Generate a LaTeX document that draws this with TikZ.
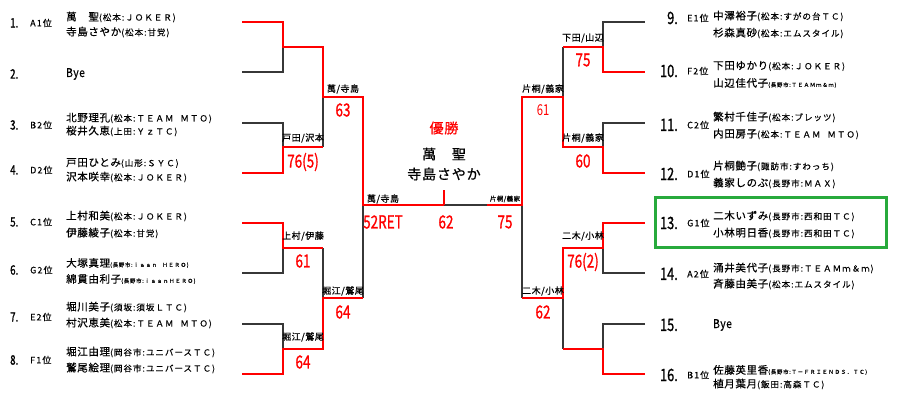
\documentclass[tikz,border=0pt]{standalone}
\usepackage{fontspec}
\setmainfont{Noto Sans CJK JP}
\newfontfamily\namefont[LetterSpace=6,FakeBold=0.6]{Noto Sans CJK JP}
\newfontfamily\clubfont[LetterSpace=12,FakeBold=0.3]{Noto Sans CJK JP}
\newfontfamily\scorefont[FakeBold=1.2]{Noto Sans CJK JP}
\definecolor{winred}{RGB}{255,0,0}
\definecolor{losegray}{RGB}{55,55,55}
\definecolor{boxgreen}{RGB}{40,170,60}
\newcommand\slim[2][0.75]{\scalebox{#1}[1]{#2}}
\newcommand\nm[3][8.5]{{\namefont\fontsize{10.5}{12}\selectfont #2}{\clubfont\fontsize{#1}{#1}\selectfont(#3)}}

\begin{document}
\begin{tikzpicture}[x=1pt,y=-1pt,
		win/.style={line width=2pt, color=winred},
		lose/.style={line width=2pt, color=losegray},
		seedL/.style={anchor=west, inner sep=0pt, font=\scorefont\fontsize{13}{13}\selectfont},
		seedR/.style={anchor=east, inner sep=0pt, font=\scorefont\fontsize{17}{17}\selectfont},
		rank/.style={anchor=west, inner sep=0pt, font=\clubfont\fontsize{9}{9}\selectfont},
		plr/.style={anchor=west, inner sep=0pt},
		bye/.style={anchor=west, inner sep=0pt, font=\namefont\fontsize{12}{12}\selectfont},
		pair/.style={inner sep=0pt, font=\namefont\fontsize{9}{9}\selectfont},
		score/.style={inner sep=0pt, color=winred, font=\scorefont\fontsize{18}{18}\selectfont},
		champ/.style={inner sep=0pt, font=\namefont\fontsize{14}{14}\selectfont}]
			%%%%% START %%%%%
			\useasboundingbox (0,0) rectangle (906,400);
			
			% left half
			\draw[lose] (283,47) -- (283,72) -- (242,72);
			\draw[lose] (242,123) -- (283,123) -- (283,147);
			\draw[lose] (323,97) -- (323,147);
			\draw[lose] (283,248) -- (283,273) -- (242,273);
			\draw[lose] (242,324) -- (283,324) -- (283,349);
			\draw[lose] (323,248) -- (323,298);
			\draw[lose] (363,205) -- (363,298);
			\draw[win] (242,22) -- (283,22) -- (283,47) -- (323,47) -- (323,97) -- (363,97) -- (363,205) -- (444,205);
			\draw[win] (242,173) -- (283,173) -- (283,147) -- (323,147);
			\draw[win] (242,223) -- (283,223) -- (283,248) -- (323,248);
			\draw[win] (242,374) -- (283,374) -- (283,349) -- (323,349) -- (323,298) -- (363,298);
			
			% final
			\draw[lose] (444,205) -- (487,205);
			\draw[win] (444,190) -- (444,205);
			
			% right half
			\draw[lose] (522,205) -- (522,298);
			\draw[lose] (563,97) -- (563,47);
			\draw[lose] (603,47) -- (603,22) -- (645,22);
			\draw[lose] (603,147) -- (603,123) -- (645,123);
			\draw[lose] (563,298) -- (563,349);
			\draw[lose] (603,248) -- (603,273) -- (645,273);
			\draw[lose] (645,324) -- (603,324) -- (603,349);
			\draw[win] (487,205) -- (522,205) -- (522,97) -- (563,97) -- (563,147) -- (603,147) -- (603,173) -- (645,173);
			\draw[win] (563,47) -- (603,47) -- (603,72) -- (645,72);
			\draw[win] (522,298) -- (563,298) -- (563,248) -- (603,248) -- (603,223) -- (645,223);
			\draw[win] (563,349) -- (603,349) -- (603,374) -- (645,374);
			
			\draw[line width=3pt, color=boxgreen] (655,197) rectangle (886,247);
			
			% left players
			\node[seedL] (n1) at (10,23) {\slim{1.}};
			\node[rank] (k1) at (30,23) {A1位};
			\node[plr] (p1a) at (66,17) {\nm{萬　聖}{松本:ＪＯＫＥＲ}};
			\node[plr] (p1b) at (66,32) {\nm{寺島さやか}{松本:甘党}};
			\node[seedL] (n2) at (10,74) {\slim{2.}};
			\node[bye] (p2) at (66,74) {\slim[0.85]{Bye}};
			\node[seedL] (n3) at (10,125) {\slim{3.}};
			\node[rank] (k3) at (30,125) {B2位};
			\node[plr] (p3a) at (66,118) {\nm{北野理孔}{松本:ＴＥＡＭ\hspace{4pt} ＭＴＯ}};
			\node[plr] (p3b) at (66,131) {\nm{桜井久恵}{上田:ＹｚＴＣ}};
			\node[seedL] (n4) at (10,170) {\slim{4.}};
			\node[rank] (k4) at (30,170) {D2位};
			\node[plr] (p4a) at (66,163) {\nm{戸田ひとみ}{山形:ＳＹＣ}};
			\node[plr] (p4b) at (66,177) {\nm{沢本咲幸}{松本:ＪＯＫＥＲ}};
			\node[seedL] (n5) at (10,222) {\slim{5.}};
			\node[rank] (k5) at (30,222) {C1位};
			\node[plr] (p5a) at (66,216) {\nm{上村和美}{松本:ＪＯＫＥＲ}};
			\node[plr] (p5b) at (66,233) {\nm{伊藤綾子}{松本:甘党}};
			\node[seedL] (n6) at (10,270) {\slim{6.}};
			\node[rank] (k6) at (30,270) {G2位};
			\node[plr] (p6a) at (66,263) {\nm[5.5]{大塚真理}{長野市:ｉａａｎ\hspace{3pt} ＨＥＲＯ}};
			\node[plr] (p6b) at (66,279) {\nm[5.5]{綿貫由利子}{長野市:ｉａａｎＨＥＲＯ}};
			\node[seedL] (n7) at (10,317) {\slim{7.}};
			\node[rank] (k7) at (30,317) {E2位};
			\node[plr] (p7a) at (66,307) {\nm{堀川美子}{須坂:須坂ＬＴＣ}};
			\node[plr] (p7b) at (66,323) {\nm{村沢恵美}{松本:ＴＥＡＭ\hspace{4pt} ＭＴＯ}};
			\node[seedL] (n8) at (10,360) {\slim{8.}};
			\node[rank] (k8) at (30,360) {F1位};
			\node[plr] (p8a) at (66,352) {\nm{堀江由理}{岡谷市:ユニバースＴＣ}};
			\node[plr] (p8b) at (66,368) {\nm{鷲尾絵理}{岡谷市:ユニバースＴＣ}};
			
			% right players
			\node[seedR] (n9) at (678,18) {\slim{9.}};
			\node[rank] (k9) at (687,18) {E1位};
			\node[plr] (p9a) at (713,16) {\nm{中澤裕子}{松本:すがの台ＴＣ}};
			\node[plr] (p9b) at (713,33) {\nm{杉森真砂}{松本:エムスタイル}};
			\node[seedR] (n10) at (678,71) {\slim{10.}};
			\node[rank] (k10) at (687,71) {F2位};
			\node[plr] (p10a) at (713,66) {\nm{下田ゆかり}{松本:ＪＯＫＥＲ}};
			\node[plr] (p10b) at (713,83) {\nm[5.5]{山辺佳代子}{長野市:ＴＥＡＭｍ＆ｍ}};
			\node[seedR] (n11) at (678,125) {\slim{11.}};
			\node[rank] (k11) at (687,125) {C2位};
			\node[plr] (p11a) at (713,117) {\nm{繁村千佳子}{松本:ブレッツ}};
			\node[plr] (p11b) at (713,134) {\nm{内田房子}{松本:ＴＥＡＭ\hspace{4pt} ＭＴＯ}};
			\node[seedR] (n12) at (678,174) {\slim{12.}};
			\node[rank] (k12) at (687,174) {D1位};
			\node[plr] (p12a) at (713,166) {\nm{片桐艶子}{諏訪市:すわっち}};
			\node[plr] (p12b) at (713,183) {\nm{義家しのぶ}{長野市:ＭＡＸ}};
			\node[seedR] (n13) at (678,223) {\slim{13.}};
			\node[rank] (k13) at (687,223) {G1位};
			\node[plr] (p13a) at (713,216) {\nm{二木いずみ}{長野市:西和田ＴＣ}};
			\node[plr] (p13b) at (713,233) {\nm{小林明日香}{長野市:西和田ＴＣ}};
			\node[seedR] (n14) at (678,274) {\slim{14.}};
			\node[rank] (k14) at (687,274) {A2位};
			\node[plr] (p14a) at (713,268) {\nm{涌井美代子}{長野市:ＴＥＡＭｍ＆ｍ}};
			\node[plr] (p14b) at (713,284) {\nm{斉藤由美子}{松本:エムスタイル}};
			\node[seedR] (n15) at (678,325) {\slim{15.}};
			\node[bye] (p15) at (713,325) {\slim[0.85]{Bye}};
			\node[seedR] (n16) at (678,375) {\slim{16.}};
			\node[rank] (k16) at (687,375) {B1位};
			\node[plr] (p16a) at (713,370) {\nm[5.5]{佐藤英里香}{長野市:Ｔ－ＦＲＩＥＮＤＳ．ＴＣ}};
			\node[plr] (p16b) at (713,384) {\nm{植月葉月}{飯田:高森ＴＣ}};
			
			% pairs and scores, left
			\node[pair] (w34) at (303,138) {戸田/沢本};
			\node[score] (s34) at (303,162) {\slim{76(5)}};
			\node[pair] (w14) at (343,89) {萬/寺島};
			\node[score] (s14) at (343,110) {\slim{63}};
			\node[pair] (w56) at (303,236) {上村/伊藤};
			\node[score] (s56) at (303,261) {\slim{61}};
			\node[pair] (w78) at (303,337) {堀江/鷲尾};
			\node[score] (s78) at (303,362) {\slim{64}};
			\node[pair] (w58) at (343,291) {堀江/鷲尾};
			\node[score] (s58) at (343,312) {\slim{64}};
			\node[pair] (w18) at (383,199) {萬/寺島};
			\node[score] (s18) at (383,222) {\slim{52RET}};
			
			% champion
			\node[champ, color=winred] (yusho) at (444,128) {優勝};
			\node[champ] (c1) at (444,154) {萬　聖};
			\node[champ] (c2) at (444,174) {寺島さやか};
			\node[score] (sfin) at (446,222) {\slim{62}};
			
			% pairs and scores, right
			\node[pair, font=\namefont\fontsize{6.5}{6.5}\selectfont] (w916) at (505,199) {片桐/義家};
			\node[score] (s916) at (505,222) {\slim{75}};
			\node[pair] (w910) at (583,38) {下田/山辺};
			\node[score] (s910) at (583,60) {\slim{75}};
			\node[pair] (w912) at (543,89) {片桐/義家};
			\node[score, font=\fontsize{15}{15}\selectfont] (s912) at (543,110) {\slim{61}};
			\node[pair] (w1112) at (583,138) {片桐/義家};
			\node[score] (s1112) at (583,161) {\slim{60}};
			\node[pair] (w1314) at (583,236) {二木/小林};
			\node[score] (s1314) at (583,262) {\slim{76(2)}};
			\node[pair] (w1316) at (543,291) {二木/小林};
			\node[score] (s1316) at (543,312) {\slim{62}};
			%%%%% END %%%%%
\end{tikzpicture}
\end{document}
